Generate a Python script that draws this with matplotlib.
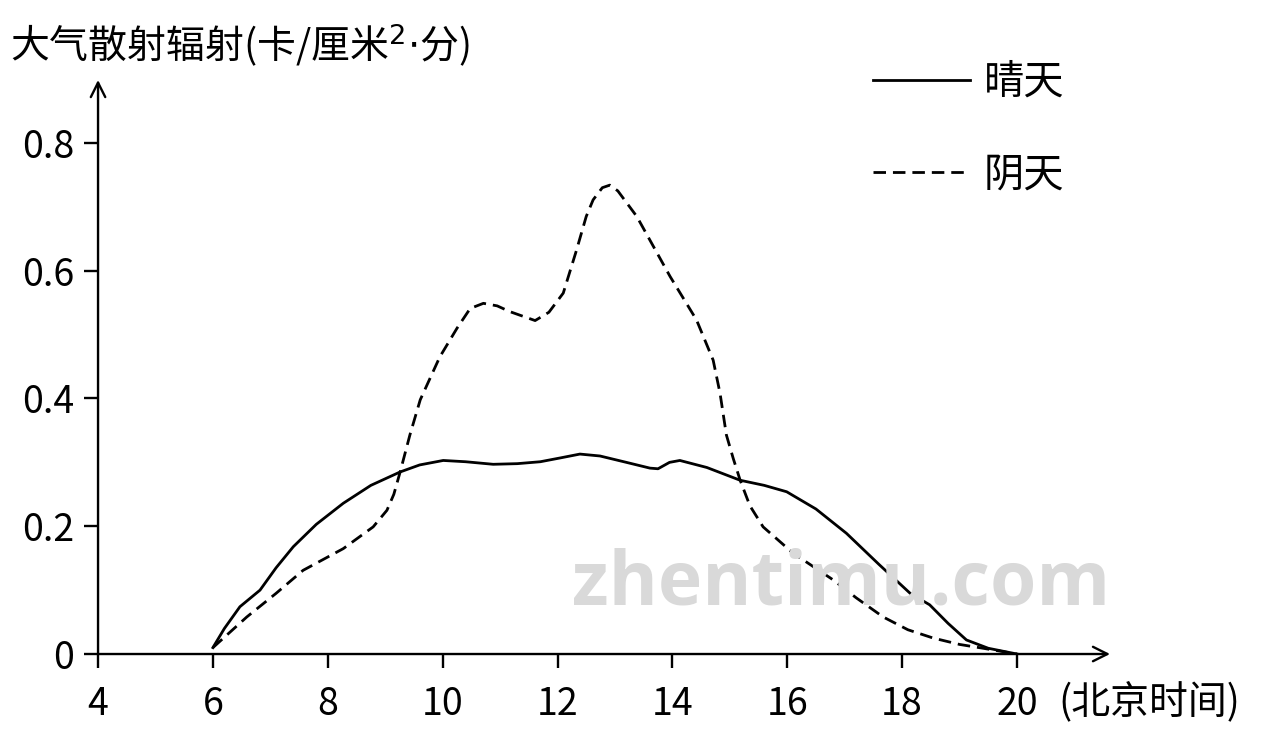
import matplotlib
matplotlib.use("Agg")
import matplotlib.pyplot as plt

plt.rcParams['font.family'] = ['Noto Sans CJK SC', 'DejaVu Sans']

# 晴天 (sunny) curve
sunny_t = [6.0, 6.2, 6.47, 6.82, 7.1, 7.40, 7.8, 8.27, 8.75, 9.26, 9.6, 10.01, 10.4,
           10.88, 11.30, 11.70, 12.05, 12.39, 12.74, 13.2, 13.61, 13.75, 13.95, 14.13,
           14.6, 15.18, 15.6, 15.99, 16.5, 17.03, 17.6, 18.14, 18.48, 18.8, 19.12,
           19.5, 20.0]
sunny_v = [0.01, 0.04, 0.074, 0.10, 0.135, 0.168, 0.203, 0.236, 0.264, 0.285, 0.296,
           0.303, 0.301, 0.297, 0.298, 0.301, 0.307, 0.313, 0.31, 0.30, 0.291, 0.29,
           0.30, 0.303, 0.292, 0.272, 0.264, 0.254, 0.227, 0.189, 0.14, 0.095, 0.077,
           0.048, 0.022, 0.009, 0.0]

# 阴天 (cloudy) curve
cloudy_t = [6.0, 6.59, 7.1, 7.57, 8.27, 8.79, 9.03, 9.15, 9.26, 9.43, 9.61, 9.95,
            10.25, 10.48, 10.71, 10.95, 11.17, 11.61, 11.85, 12.10, 12.33, 12.5, 12.62,
            12.78, 12.91, 13.05, 13.38, 13.96, 14.42, 14.71, 14.83, 14.94, 15.06,
            15.18, 15.35, 15.58, 16.10, 16.80, 17.2, 17.67, 18.1, 18.54, 19.0, 19.41,
            20.0]
cloudy_v = [0.01, 0.058, 0.095, 0.131, 0.165, 0.199, 0.225, 0.25, 0.285, 0.343, 0.398,
            0.465, 0.51, 0.541, 0.549, 0.545, 0.536, 0.522, 0.535, 0.565, 0.632, 0.685,
            0.711, 0.73, 0.734, 0.725, 0.685, 0.591, 0.523, 0.46, 0.408, 0.343, 0.306,
            0.272, 0.232, 0.199, 0.158, 0.116, 0.088, 0.058, 0.038, 0.025, 0.015, 0.009,
            0.0]

xticks = [4, 6, 8, 10, 12, 14, 16, 18, 20]
yticks = [0, 0.2, 0.4, 0.6, 0.8]
ytick_labels = ['0', '0.2', '0.4', '0.6', '0.8']

fig = plt.figure(figsize=(12.65, 7.38), dpi=100)
ax = fig.add_axes([0.0775, 0.1138, 0.80, 0.7778])
ax.set_xlim(4, 21.62)
ax.set_ylim(0, 0.8986)

ax.plot(sunny_t, sunny_v, color='black', lw=2.0, solid_joinstyle='round')
ax.plot(cloudy_t, cloudy_v, color='black', lw=2.0, dashes=(4.5, 2.5))

for s in ax.spines.values():
    s.set_visible(False)

# axes with arrows
ax.annotate('', xy=(1, 0), xytext=(0, 0), xycoords='axes fraction',
            arrowprops=dict(arrowstyle='->', lw=1.7, color='black',
                            mutation_scale=26, shrinkA=0, shrinkB=0))
ax.annotate('', xy=(0, 1), xytext=(0, 0), xycoords='axes fraction',
            arrowprops=dict(arrowstyle='->', lw=1.7, color='black',
                            mutation_scale=26, shrinkA=0, shrinkB=0))

ax.set_xticks(xticks)
ax.set_xticklabels([str(x) for x in xticks])
ax.set_yticks(yticks)
ax.set_yticklabels(ytick_labels)
ax.tick_params(axis='both', direction='out', length=10, width=1.7,
               labelsize=27, color='black')
ax.tick_params(axis='x', pad=12)
ax.tick_params(axis='y', pad=7)

fig.text(0.008, 0.938, r'大气散射辐射(卡/厘米$^{2}{\cdot}$分)', fontsize=28,
         va='center', ha='left')
fig.text(1058 / 1265, 1 - 702 / 738, '(北京时间)', fontsize=28, va='center', ha='left')

# legend drawn by hand
fig.add_artist(plt.Line2D([873 / 1265, 970 / 1265], [1 - 80 / 738, 1 - 80 / 738],
                          color='black', lw=2.0))
fig.add_artist(plt.Line2D([873 / 1265, 970 / 1265], [1 - 172 / 738, 1 - 172 / 738],
                          color='black', lw=2.0, dashes=(4.5, 2.5)))
fig.text(984 / 1265, 1 - 82 / 738, '晴天', fontsize=29, va='center', ha='left')
fig.text(984 / 1265, 1 - 175 / 738, '阴天', fontsize=29, va='center', ha='left')

# watermark
fig.text(841 / 1265, 1 - 585 / 738, 'zhentimu.com', fontsize=54, fontweight='bold',
         color='#d9d9d9', va='center', ha='center', family='Open Sans', zorder=0)

fig.savefig('out.png', dpi=100)
